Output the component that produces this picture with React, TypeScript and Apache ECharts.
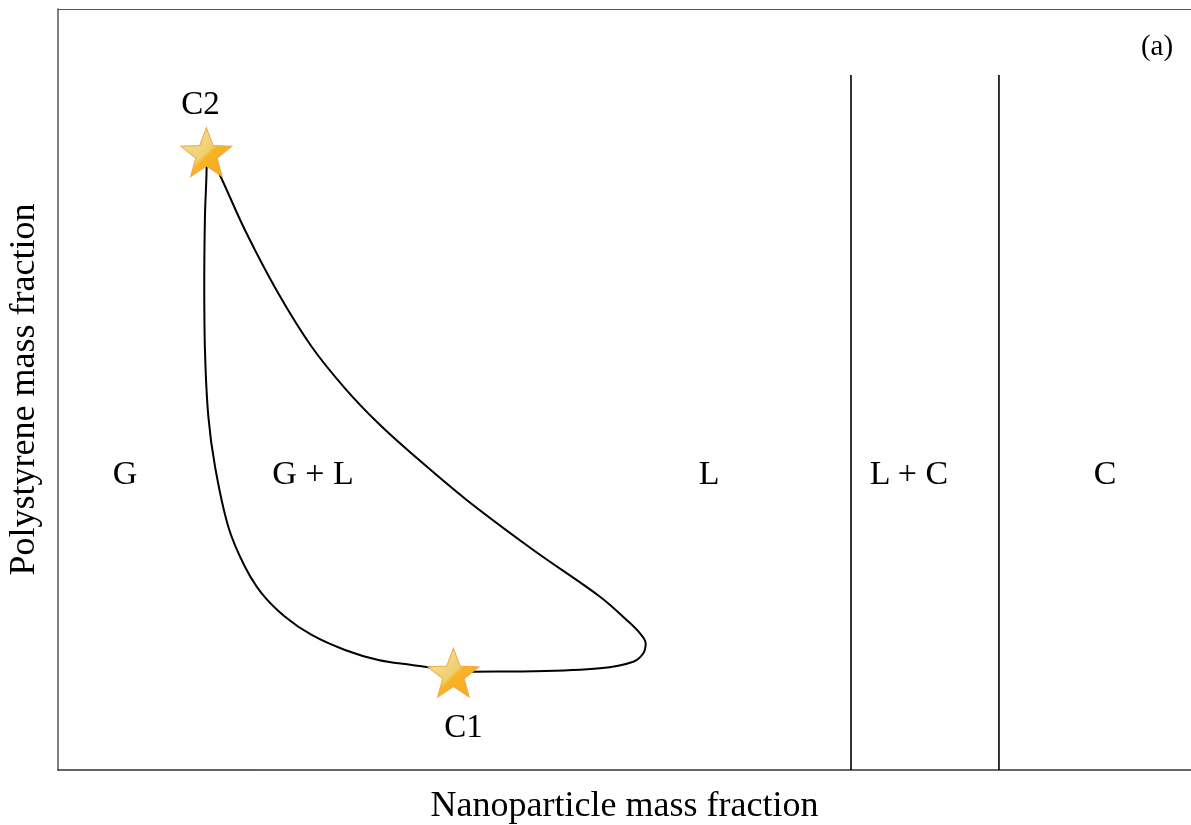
import React, { useEffect, useRef } from "react";
import * as echarts from "echarts";

// Phase boundary (x: nanoparticle fraction %, y: polystyrene fraction %)
// Right (liquid-side) branch, from C2 down to C1
const rightX = [13.15, 14.15, 16.50, 19.44, 22.39, 25.33, 28.27, 31.36, 36.07, 41.95, 47.84, 50.19, 51.37, 51.87, 51.66, 50.78, 47.84, 41.95, 36.63, 34.86];
const rightY = [81.21, 78.62, 70.96, 62.64, 55.62, 50.16, 45.56, 41.39, 35.48, 28.91, 22.77, 19.71, 17.96, 16.65, 15.34, 14.23, 13.36, 12.97, 12.92, 12.88];
// Left (gas-side) branch, from C2 down to C1
const leftX = [13.06, 13.12, 12.97, 12.91, 12.97, 13.27, 13.86, 15.03, 16.50, 17.98, 20.04, 22.39, 25.33, 28.27, 31.22, 32.98, 34.86];
const leftY = [81.21, 79.72, 72.71, 63.95, 55.19, 46.43, 39.86, 31.97, 26.71, 23.22, 20.14, 17.74, 15.77, 14.45, 13.80, 13.44, 12.88];

// Vertical phase boundaries
const boundaryX = [69.99, 83.05];
const boundaryTop = 91.33;

// Critical points
const criticalNames = ["C2", "C1"];
const criticalX = [13.1, 34.9];
const criticalY = [81.2, 12.8];

// Region labels
const regionNames = ["G", "G + L", "L", "L + C", "C"];
const regionX = [5.91, 22.51, 57.46, 75.11, 92.41];
const regionY = [39.03, 39.03, 39.03, 39.03, 39.03];

const panelLabel = "(a)";
const panelPos = [97.0, 95.27];

const FONT = "'Liberation Serif', 'Times New Roman', serif";
const STAR = "path://M50 0 L62.34 33.01 L97.55 34.55 L69.97 56.49 L79.39 90.45 L50 71 L20.61 90.45 L30.03 56.49 L2.45 34.55 L37.66 33.01 Z";

export default function App() {
  const ref = useRef<HTMLDivElement>(null);
  useEffect(() => {
    if (!ref.current) return;
    const chart = echarts.init(ref.current, null, { renderer: "svg" });
    const starFill = new echarts.graphic.LinearGradient(0, 0, 1, 1, [
      { offset: 0, color: "#F3E3A6" },
      { offset: 0.5, color: "#EFD06C" },
      { offset: 0.55, color: "#F7B426" },
      { offset: 1, color: "#F5A81E" },
    ]);
    const branch = (xs: number[], ys: number[]) => ({
      type: "line",
      data: xs.map((x, i) => [x, ys[i]]),
      smooth: 0.35,
      showSymbol: false,
      lineStyle: { color: "#000", width: 2 },
      z: 2,
    });
    const textLabel = (size: number) => ({
      show: true,
      formatter: "{b}",
      position: "inside",
      fontFamily: FONT,
      fontSize: size,
      color: "#000",
    });
    chart.setOption({
      animation: false,
      grid: { left: 58, right: 0, top: 9, bottom: 55, containLabel: false, outerBoundsMode: "none" },
      xAxis: [
        {
          type: "value", min: 0, max: 100,
          name: "Nanoparticle mass fraction", nameLocation: "middle", nameGap: 16,
          nameTextStyle: { fontFamily: FONT, fontSize: 36, color: "#000" },
          axisLine: { show: true, lineStyle: { color: "#333", width: 1.5 } },
          axisTick: { show: false }, axisLabel: { show: false }, splitLine: { show: false },
        },
        {
          type: "value", min: 0, max: 100, position: "top",
          axisLine: { show: true, lineStyle: { color: "#555", width: 1.2 } },
          axisTick: { show: false }, axisLabel: { show: false }, splitLine: { show: false },
        },
      ],
      yAxis: {
        type: "value", min: 0, max: 100,
        name: "Polystyrene mass fraction", nameLocation: "middle", nameGap: 18,
        nameTextStyle: { fontFamily: FONT, fontSize: 36, color: "#000" },
        axisLine: { show: true, lineStyle: { color: "#555", width: 1.5 } },
        axisTick: { show: false }, axisLabel: { show: false }, splitLine: { show: false },
      },
      series: [
        branch(rightX, rightY),
        branch(leftX, leftY),
        ...boundaryX.map((x) => ({
          type: "line",
          data: [[x, 0], [x, boundaryTop]],
          showSymbol: false,
          lineStyle: { color: "#000", width: 1.6 },
        })),
        {
          type: "scatter",
          data: criticalNames.map((n, i) => ({
            name: n,
            value: [criticalX[i], criticalY[i]],
            label: i === 0
              ? { position: "top", distance: 8, offset: [-6, 0] }
              : { position: "bottom", distance: 12, offset: [10, 0] },
          })),
          symbol: STAR,
          symbolSize: [51, 49],
          itemStyle: { color: starFill, borderColor: "#F2A646", borderWidth: 1, opacity: 1 },
          label: { show: true, formatter: "{b}", fontFamily: FONT, fontSize: 33, color: "#000" },
          z: 5,
        },
        {
          type: "scatter",
          data: regionNames.map((n, i) => ({ name: n, value: [regionX[i], regionY[i]] })),
          symbolSize: 0,
          itemStyle: { opacity: 1 },
          label: textLabel(34),
        },
        {
          type: "scatter",
          data: [{ name: panelLabel, value: panelPos }],
          symbolSize: 0,
          itemStyle: { opacity: 1 },
          label: textLabel(29),
        },
      ],
    });
    return () => chart.dispose();
  }, []);
  return <div ref={ref} style={{ position: "fixed", left: 0, top: 0, width: 1191, height: 825 }} />;
}
